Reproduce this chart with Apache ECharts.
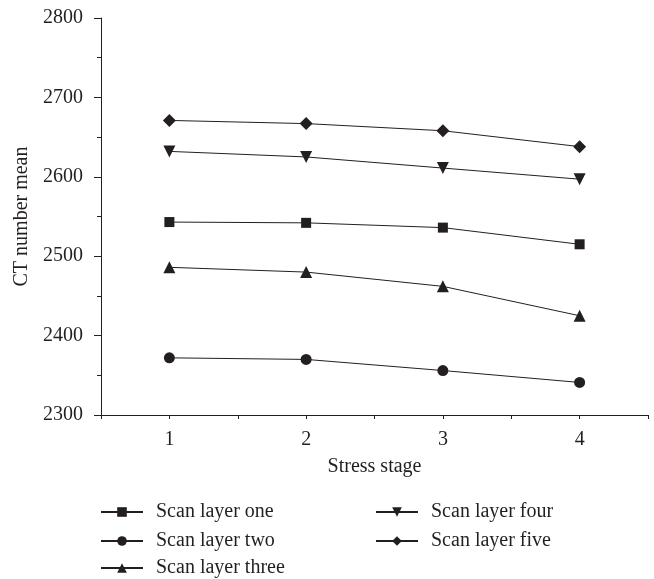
<!DOCTYPE html>
<html>
<head>
<meta charset="utf-8">
<script src="https://cdn.jsdelivr.net/npm/echarts@6/dist/echarts.min.js"></script>
<style>
    html, body { margin: 0; padding: 0; background: #fff; }
    #chart { width: 654px; height: 579px; }
</style>
</head>
<body>
<div id="chart"></div>
<script>
    // stress stages and the CT number mean per scan layer
    var stages = [1, 2, 3, 4];
    var stageLabels = ['1', '2', '3', '4'];
    var layerNames = ['Scan layer one', 'Scan layer two', 'Scan layer three', 'Scan layer four', 'Scan layer five'];
    var layerOne = [2543, 2542, 2536, 2515];
    var layerTwo = [2372, 2370, 2356, 2341];
    var layerThree = [2486, 2480, 2462, 2425];
    var layerFour = [2632, 2625, 2611, 2597];
    var layerFive = [2671, 2667, 2658, 2638];

    var ink = '#231f20';
    var font = '"Liberation Serif", "DejaVu Serif", serif';
    var fs = 20;

    function pairs(vals) {
        return stages.map(function (s, i) { return [s, vals[i]]; });
    }

    function line(name, vals, symbol, size) {
        return {
            name: name,
            type: 'line',
            data: pairs(vals),
            symbol: symbol,
            symbolSize: size,
            itemStyle: { color: ink },
            lineStyle: { color: ink, width: 1 }
        };
    }

    // one legend per entry so the two columns sit where the reference has them
    var legendSpots = [[100, 502], [100, 531], [100, 558], [375, 502], [375, 531]];
    var legends = layerNames.map(function (n, i) {
        return {
            left: legendSpots[i][0], top: legendSpots[i][1],
            padding: 0,
            itemWidth: 42, itemHeight: 12,
            data: [n],
            selectedMode: false,
            textStyle: { fontFamily: font, fontSize: fs, color: ink, padding: [0, 0, 0, 8] }
        };
    });

    var chart = echarts.init(document.getElementById('chart'));
    var option = {
        animation: false,
        textStyle: { fontFamily: font, color: ink },
        grid: { left: 101, right: 6, top: 18, bottom: 164 },
        legend: legends,
        xAxis: [{
            type: 'value',
            min: 0.5, max: 4.5, interval: 0.5,
            name: 'Stress stage',
            nameLocation: 'middle',
            nameGap: 42,
            nameTextStyle: { fontFamily: font, fontSize: fs, color: ink },
            axisLine: { lineStyle: { color: ink, width: 1 } },
            axisTick: { length: 4, lineStyle: { color: ink } },
            axisLabel: { show: false },
            splitLine: { show: false }
        }, {
            type: 'category',
            position: 'bottom',
            data: stageLabels,
            boundaryGap: true,
            axisLine: { show: false },
            axisTick: { alignWithLabel: true, length: 7, lineStyle: { color: ink } },
            axisLabel: { fontFamily: font, fontSize: fs, color: ink, margin: 15 },
            splitLine: { show: false }
        }],
        yAxis: {
            type: 'value',
            min: 2300, max: 2800, interval: 100,
            name: 'CT number mean',
            nameLocation: 'middle',
            nameGap: 66,
            nameTextStyle: { fontFamily: font, fontSize: fs, color: ink },
            axisLine: { show: true, lineStyle: { color: ink, width: 1 } },
            axisTick: { show: true, length: 7, lineStyle: { color: ink } },
            minorTick: { show: true, splitNumber: 2, length: 4, lineStyle: { color: ink } },
            axisLabel: {
                fontFamily: font, fontSize: fs, color: ink, margin: 18,
                formatter: function (v) { return String(v); }
            },
            splitLine: { show: false }
        },
        series: [
            line(layerNames[0], layerOne, 'rect', 10),
            line(layerNames[1], layerTwo, 'circle', 11),
            line(layerNames[2], layerThree, 'triangle', 12),
            line(layerNames[3], layerFour, 'path://M0,0 L10,0 L5,9 Z', 12),
            line(layerNames[4], layerFive, 'diamond', 13)
        ]
    };
    chart.setOption(option);
</script>
</body>
</html>
